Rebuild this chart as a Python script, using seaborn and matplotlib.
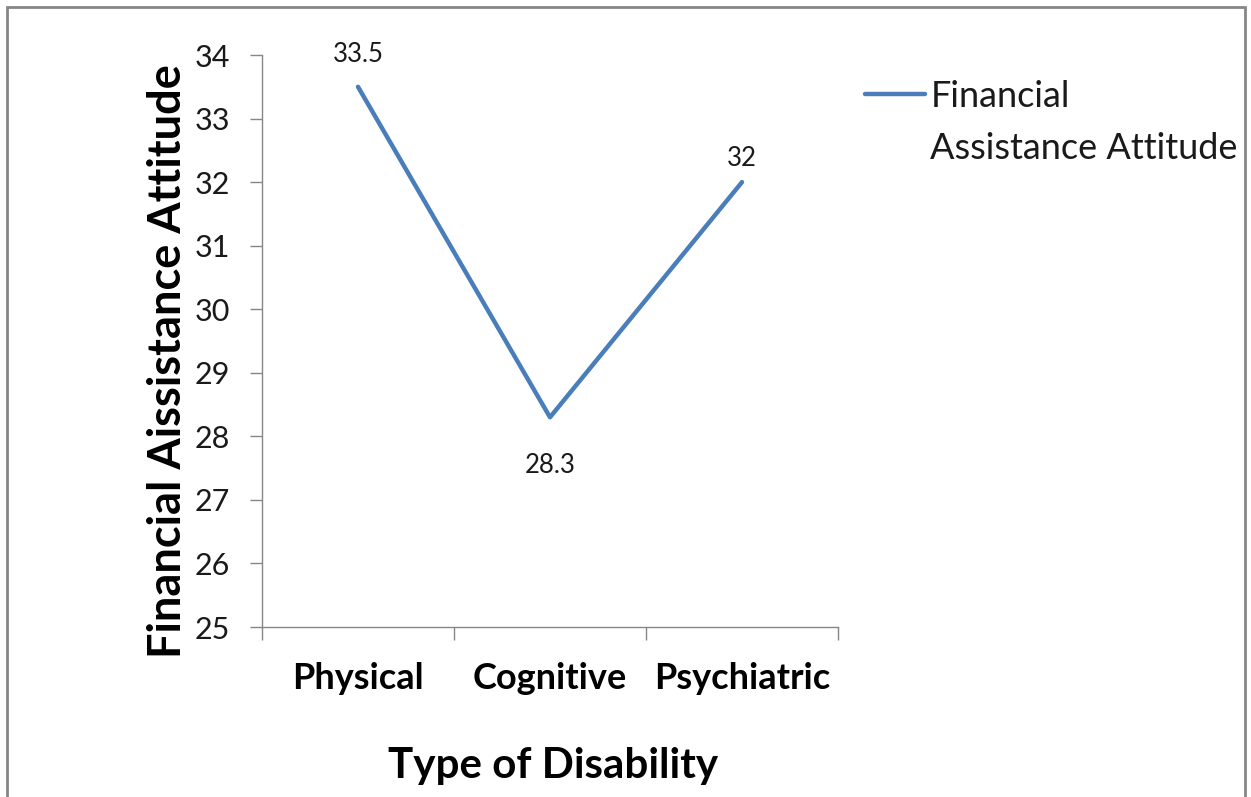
import matplotlib
matplotlib.use("Agg")
import matplotlib.pyplot as plt
import seaborn as sns
import pandas as pd
from matplotlib.patches import Rectangle
from matplotlib.ticker import FixedLocator

categories = ["Physical", "Cognitive", "Psychiatric"]
values = [33.5, 28.3, 32]
value_labels = ["33.5", "28.3", "32"]
series_name = "Financial\nAssistance Attitude"
y_ticks = [25, 26, 27, 28, 29, 30, 31, 32, 33, 34]

sns.set_theme(style="white")
plt.rcParams["font.family"] = ["Lato", "DejaVu Sans"]

W, H = 1251, 797
fig = plt.figure(figsize=(W / 100, H / 100), dpi=100)
ax = fig.add_axes([262 / W, 1 - 627 / H, (838 - 262) / W, (627 - 55) / H])

df = pd.DataFrame({"Type": categories, "Value": values, "Series": series_name})
sns.lineplot(data=df, x="Type", y="Value", hue="Series", palette=["#4A7EBB"],
             linewidth=3.2, ax=ax, sort=False)

ax.set_xlim(-0.5, 2.5)
ax.set_ylim(25, 34)
ax.set_yticks(y_ticks)
ax.set_yticklabels([str(t) for t in y_ticks], fontsize=22, color="#1a1a1a")
ax.set_xticks(range(len(categories)))
ax.set_xticklabels(categories, fontsize=26, fontweight="bold", color="black")
ax.xaxis.set_minor_locator(FixedLocator([-0.5, 0.5, 1.5, 2.5]))
ax.tick_params(axis="x", which="major", length=0, pad=25)
ax.tick_params(axis="x", which="minor", length=9, width=1, color="#868686", direction="out", bottom=True)
ax.tick_params(axis="y", which="major", length=9, width=1, color="#868686", direction="out", left=True, pad=14)

for s in ["top", "right"]:
    ax.spines[s].set_visible(False)
for s in ["left", "bottom"]:
    ax.spines[s].set_color("#868686")
    ax.spines[s].set_linewidth(1)

offsets = [23, -35, 17]
for i, (v, lab) in enumerate(zip(values, value_labels)):
    ax.annotate(lab, (i, v), xytext=(0, offsets[i]), textcoords="offset points",
                ha="center", va="center", fontsize=18.5, color="#1a1a1a", annotation_clip=False)

ax.set_xlabel("Type of Disability", fontsize=30.3, fontweight="bold", color="black")
ax.xaxis.label.set_va("center")
ax.xaxis.set_label_coords((553 - 262) / 576, (627 - 766) / 572)
ax.set_ylabel("Financial Aissistance Attitude", fontsize=32.5, fontweight="bold", color="black")
ax.yaxis.label.set_va("center")
ax.yaxis.set_label_coords((168 - 262) / 576, (627 - 361) / 572)

leg = ax.legend(loc="upper left", bbox_to_anchor=(851 / W, 1 - 66 / H), bbox_transform=fig.transFigure,
                frameon=False, fontsize=26, handlelength=1.65, handletextpad=0.15, borderaxespad=0)
for t in leg.get_texts():
    t.set_color("#1a1a1a")
    t.set_linespacing(1.68)
fig.canvas.draw()
for ln in leg.get_lines():
    yd = ln.get_ydata()
    ln.set_ydata([y + 21 for y in yd])

fig.patches.append(Rectangle((7 / W, -0.02), (1245 - 7) / W, 1 - 7 / H + 0.02,
                             transform=fig.transFigure, fill=False, edgecolor="#868686", linewidth=2))

fig.savefig("out.png", dpi=100, facecolor="white")
